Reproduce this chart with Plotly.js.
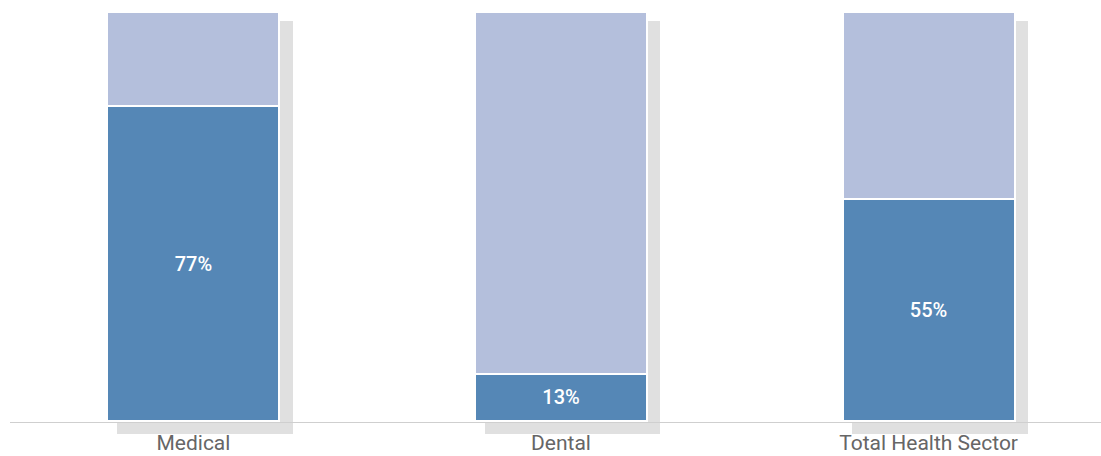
<!DOCTYPE html>
<html>
<head>
<meta charset="utf-8">
<script src="https://cdn.plot.ly/plotly-3.0.1.min.js"></script>
<style>html,body{margin:0;padding:0;background:#fff;}#chart{width:1101px;height:456px;}</style>
</head>
<body>
<div id="chart"></div>
<script>
const categories = ['Medical', 'Dental', 'Total Health Sector'];
const shareValues = [77, 11.7, 54.3];
const remainderValues = [23, 88.3, 45.7];
const shareLabels = ['77%', '13%', '55%'];
const shadowValues = [100, 100, 100];

const darkBlue = '#5587b6';
const lightBlue = '#b4bfdc';
const shadowGray = '#e0e0e0';

const xRange = [-0.499, 2.469];

const traces = [
  {
    type: 'bar', x: categories, y: shadowValues,
    xaxis: 'x', yaxis: 'y',
    width: 0.478, offset: -0.208,
    marker: {color: shadowGray, line: {width: 0}},
    cliponaxis: false, hoverinfo: 'skip', showlegend: false
  },
  {
    type: 'bar', x: categories, y: shareValues,
    xaxis: 'x2', yaxis: 'y2',
    width: 0.468,
    text: shareLabels, textposition: 'inside', insidetextanchor: 'middle',
    textfont: {color: '#ffffff', size: 20, family: 'Roboto, sans-serif', weight: 500},
    marker: {color: darkBlue, line: {color: '#ffffff', width: 2}},
    cliponaxis: false, showlegend: false
  },
  {
    type: 'bar', x: categories, y: remainderValues,
    xaxis: 'x2', yaxis: 'y2',
    width: 0.468,
    marker: {color: lightBlue, line: {color: '#ffffff', width: 2}},
    cliponaxis: false, showlegend: false
  }
];

const layout = {
  width: 1101, height: 456,
  margin: {l: 10, r: 0, t: 12, b: 16, pad: 0},
  paper_bgcolor: '#ffffff', plot_bgcolor: 'rgba(0,0,0,0)',
  barmode: 'stack',
  showlegend: false,
  font: {family: 'Roboto, sans-serif', color: '#666666'},
  xaxis: {
    range: xRange, showgrid: false, zeroline: false,
    anchor: 'free', position: 0.0414,
    showline: true, linecolor: '#cfcfcf', linewidth: 1,
    ticks: 'outside', ticklen: 2, tickcolor: 'rgba(0,0,0,0)',
    tickfont: {size: 21, color: '#666666', family: 'Roboto, sans-serif'},
    fixedrange: true
  },
  yaxis: {
    range: [-1.38, 102.25], visible: false, showgrid: false, zeroline: false, fixedrange: true
  },
  xaxis2: {
    range: xRange, matches: 'x', anchor: 'y2', visible: false, showgrid: false, zeroline: false
  },
  yaxis2: {
    domain: [0.042, 1],
    range: [-0.15, 100.1], anchor: 'x2', visible: false, showgrid: false, zeroline: false
  }
};

Plotly.newPlot('chart', traces, layout, {displayModeBar: false, staticPlot: true});
</script>
</body>
</html>
